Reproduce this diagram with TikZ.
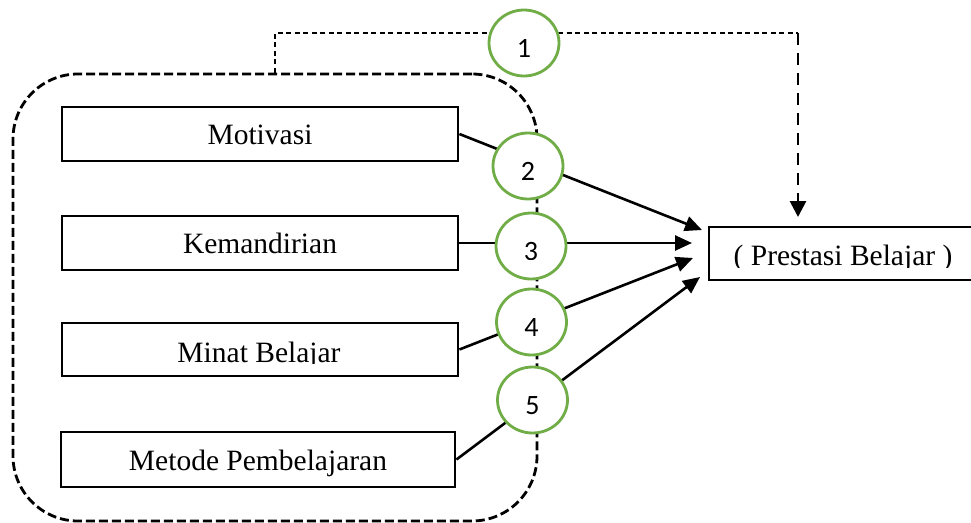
\documentclass[tikz,border=0pt]{standalone}
\usepackage{fontspec}
\setmainfont{Liberation Serif}
\newfontfamily\digitfont{Carlito}
\usetikzlibrary{shapes.geometric,arrows.meta,backgrounds}
\definecolor{cgreen}{HTML}{70AD47}
\begin{document}
\begin{tikzpicture}[x=1pt,y=1pt,
  varbox/.style={draw, line width=2.8pt, fill=white, minimum height=54pt, inner sep=0pt,
    text height=21pt, text depth=0pt, font=\fontsize{29.5}{35}\selectfont},
  txt/.style={inner sep=0pt, text height=21pt, text depth=0pt, font=\fontsize{29.5}{35}\selectfont},
  numcirc/.style={ellipse, draw=cgreen, line width=2.8pt, fill=white, minimum width=70pt,
    minimum height=66pt, inner sep=0pt, font=\digitfont\fontsize{28}{30}\selectfont},
  numtxt/.style={inner sep=0pt, font=\digitfont\fontsize{28}{30}\selectfont},
  conn/.style={line width=2.6pt, -{Triangle[length=17pt,width=15pt]}},
  grpbox/.style={draw, dash pattern=on 9pt off 4pt, line width=2.8pt, rounded corners=65pt,
    minimum width=524pt, minimum height=447pt},
  thindash/.style={line width=1.5pt, dash pattern=on 5pt off 3.5pt},
  thickdash/.style={line width=2.8pt, dash pattern=on 12pt off 8pt, -{Triangle[length=16pt,width=16pt]}}
]
\useasboundingbox (0,0) rectangle (971,-522);

% group box
\node[grpbox] (grp) at (275,-297.5) {};

% circles
\node[numcirc] (c1) at (524,-43) {\raisebox{-14pt}[0pt][0pt]{1}};
\node[numcirc] (c2) at (528,-166) {\raisebox{-14pt}[0pt][0pt]{2}};
\node[numcirc] (c3) at (531,-246) {};
\node[numcirc] (c4) at (531.5,-322) {\raisebox{-14pt}[0pt][0pt]{4}};
\node[numcirc] (c5) at (532.5,-400) {\raisebox{-14pt}[0pt][0pt]{5}};
\begin{scope}
  \clip (490,-200) rectangle (575,-259);
  \node[numtxt] (n3) at (c3.center) {\raisebox{-14pt}[0pt][0pt]{3}};
\end{scope}

% boxes
\node[varbox, minimum width=396pt] (mot) at (260,-134) {Motivasi};
\node[varbox, minimum width=396pt] (kem) at (260,-243) {Kemandirian};
\node[varbox, minimum width=396pt, minimum height=53pt] (min) at (260,-349.5) {};
\node[varbox, minimum width=394pt, minimum height=55pt] (met) at (258,-459.5) {Metode Pembelajaran};
\node[varbox, minimum width=268pt, minimum height=53pt] (pre) at (843,-253.5) {};
\begin{scope}
  \clip (65,-320) rectangle (455,-363.5);
  \node[txt] (mintxt) at (259,-351.5) {Minat Belajar};
\end{scope}
\begin{scope}
  \clip (712,-230) rectangle (971,-267);
  \node[txt] (pretxt) at (843,-254.5) {( Prestasi Belajar )};
\end{scope}

% coordinates
\coordinate (tl) at (275,-33);
\coordinate (cr) at (798,-33);
\coordinate (tp) at (798,-217);
\coordinate (t2) at (702,-230);
\coordinate (t3) at (692,-243);
\coordinate (t4) at (693,-258);
\coordinate (t5) at (700,-277);

% connectors
\begin{scope}[on background layer]
  \draw[thindash] (grp.north) -- (tl) -- (cr);
  \draw[thickdash] (cr) -- (tp);
  \draw[conn] (mot.east) -- (t2);
  \draw[conn] (kem.east) -- (t3);
  \draw[conn] (min.east) -- (t4);
  \draw[conn] (met.east) -- (t5);
\end{scope}
\end{tikzpicture}
\end{document}
